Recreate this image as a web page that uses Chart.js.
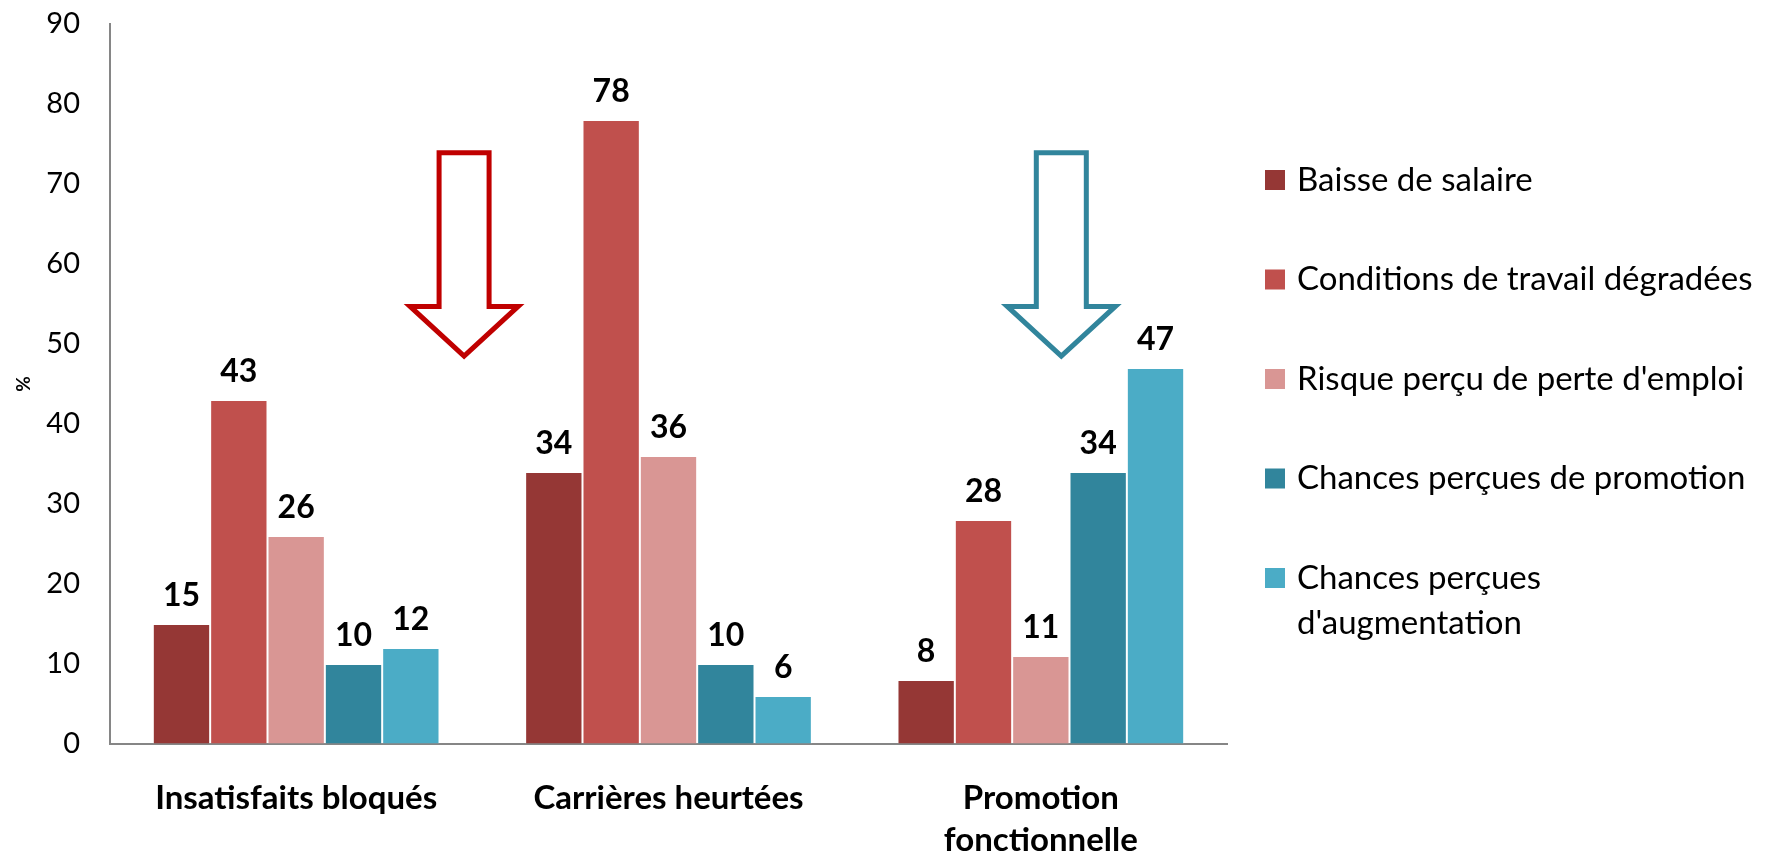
<!DOCTYPE html>
<html>
<head>
<meta charset="utf-8">
<script src="https://cdn.jsdelivr.net/npm/chart.js@4.4.1/dist/chart.umd.min.js"></script>
<style>
    html, body { margin: 0; background: #ffffff; }
    #zone { width: 1789px; height: 854px; position: relative; }
</style>
</head>
<body>
<div id="zone"><canvas id="graficoPrincipal"></canvas></div>
<script>
"use strict";

// ---- données ----
const categories = [["Insatisfaits bloqués"], ["Carrières heurtées"], ["Promotion", "fonctionnelle"]];
const series = [
    "Baisse de salaire",
    "Conditions de travail dégradées",
    "Risque perçu de perte d'emploi",
    "Chances perçues de promotion",
    "Chances perçues\nd'augmentation"
];
const baisseSalaire = [15, 34, 8];
const conditionsTravail = [43, 78, 28];
const risquePerte = [26, 36, 11];
const chancesPromotion = [10, 10, 34];
const chancesAugmentation = [12, 6, 47];
const ticksY = [0, 10, 20, 30, 40, 50, 60, 70, 80, 90];

const valeurs = [baisseSalaire, conditionsTravail, risquePerte, chancesPromotion, chancesAugmentation];
const couleurs = ["#953735", "#C0504D", "#D99694", "#31859C", "#4BACC6"];

// flèches : position en unités des axes
const fleches = [
    { x: 0.451, couleur: "#C00000" },
    { x: 2.055, couleur: "#31859C" }
];

const police = "Lato, 'Open Sans', sans-serif";

const etiquettes = {
    id: "etiquettes",
    afterDatasetsDraw(chart) {
        const ctx = chart.ctx;
        ctx.save();
        ctx.font = "bold 32px " + police;
        ctx.fillStyle = "#000000";
        ctx.textAlign = "center";
        ctx.textBaseline = "middle";
        chart.data.datasets.forEach((ds, i) => {
            chart.getDatasetMeta(i).data.forEach((barre, j) => {
                ctx.fillText(String(ds.data[j]), barre.x, barre.y - 28);
            });
        });
        ctx.restore();
    }
};

const dessinFleches = {
    id: "fleches",
    afterDatasetsDraw(chart) {
        const ctx = chart.ctx;
        const sx = chart.scales.x;
        const sy = chart.scales.y;
        ctx.save();
        ctx.lineWidth = 5;
        ctx.lineJoin = "miter";
        fleches.forEach(f => {
            const cx = sx.getPixelForValue(f.x);
            const haut = sy.getPixelForValue(73.9);
            const aile = sy.getPixelForValue(54.7);
            const pointe = sy.getPixelForValue(48.5);
            ctx.strokeStyle = f.couleur;
            ctx.beginPath();
            ctx.moveTo(cx - 25, haut);
            ctx.lineTo(cx + 25, haut);
            ctx.lineTo(cx + 25, aile);
            ctx.lineTo(cx + 54, aile);
            ctx.lineTo(cx, pointe);
            ctx.lineTo(cx - 54, aile);
            ctx.lineTo(cx - 25, aile);
            ctx.closePath();
            ctx.stroke();
        });
        ctx.restore();
    }
};

const legende = {
    id: "legende",
    afterDraw(chart) {
        const ctx = chart.ctx;
        const x0 = chart.chartArea.right + 38;
        ctx.save();
        ctx.font = "33px " + police;
        ctx.textBaseline = "middle";
        ctx.textAlign = "left";
        series.forEach((nom, i) => {
            const y = 180 + i * 99.5;
            ctx.fillStyle = couleurs[i];
            ctx.fillRect(x0, y - 10, 20, 20);
            ctx.fillStyle = "#000000";
            nom.split("\n").forEach((ligne, k) => {
                ctx.fillText(ligne, x0 + 32, y + k * 45);
            });
        });
        ctx.restore();
    }
};

new Chart(document.getElementById("graficoPrincipal"), {
    type: "bar",
    data: {
        labels: categories,
        datasets: series.map((nom, i) => ({
            label: nom.replace("\n", " "),
            data: valeurs[i],
            backgroundColor: couleurs[i],
            borderColor: "rgba(255,255,255,0.35)",
            borderWidth: 1,
            categoryPercentage: 0.77,
            barPercentage: 1
        }))
    },
    options: {
        responsive: true,
        maintainAspectRatio: false,
        animation: false,
        layout: { padding: { top: 24, right: 562, left: 0, bottom: 0 } },
        plugins: {
            legend: { display: false },
            tooltip: { enabled: false }
        },
        scales: {
            x: {
                grid: { display: false },
                border: { display: true, color: "#868686", width: 2 },
                ticks: {
                    color: "#000000",
                    padding: 26,
                    maxRotation: 0,
                    font: { family: police, size: 33, weight: "bold", lineHeight: 1.25 }
                },
                afterFit(scale) { scale.height = 110; }
            },
            y: {
                min: 0,
                max: 90,
                grid: {
                    display: true,
                    drawOnChartArea: false,
                    drawTicks: true,
                    tickLength: 30,
                    tickColor: "rgba(0,0,0,0)"
                },
                border: { display: true, color: "#868686", width: 2 },
                afterBuildTicks(scale) { scale.ticks = ticksY.map(v => ({ value: v })); },
                ticks: {
                    color: "#000000",
                    padding: 0,
                    font: { family: police, size: 29 }
                },
                title: {
                    display: true,
                    text: "%",
                    color: "#000000",
                    padding: { top: 12, bottom: 0 },
                    font: { family: police, size: 19, weight: "bold" }
                },
                afterFit(scale) { scale.width = 110; }
            }
        }
    },
    plugins: [etiquettes, dessinFleches, legende]
});
</script>
</body>
</html>
